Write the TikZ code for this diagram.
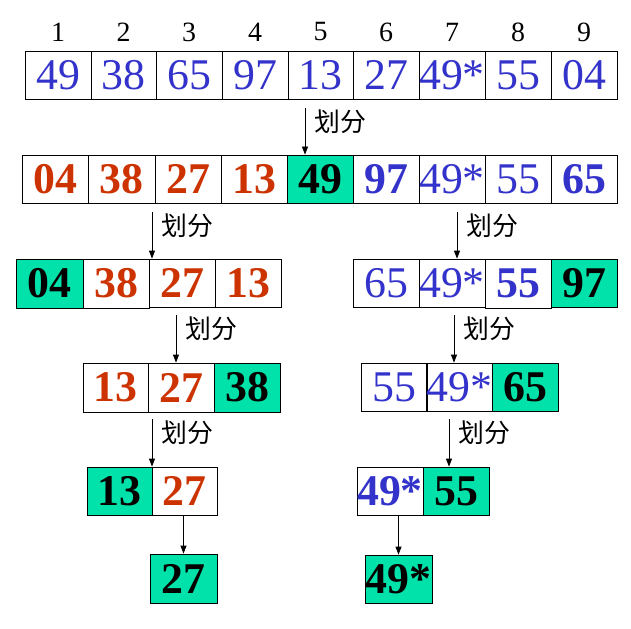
\documentclass[tikz,border=0pt]{standalone}
\usepackage{fontspec}
\setmainfont{Liberation Serif}
\newfontfamily\cjk{Noto Sans CJK SC}
\usetikzlibrary{arrows.meta}
\definecolor{tgreen}{RGB}{0,226,170}
\definecolor{tred}{RGB}{204,51,0}
\definecolor{tblue}{RGB}{51,51,204}
\newcommand\cellbox[7]{\node[cellstyle,#6,minimum width={(#3-#2)*1bp},minimum height={(#5-#4)*1bp}] (#1) at ({(#2+#3)/2},{(#4+#5)/2}) {#7};}
\tikzset{
  cellstyle/.style={draw=black,line width=0.8bp,inner sep=0pt,font=\fontsize{44}{44}\selectfont},
  bl/.style={text=tblue},
  bb/.style={text=tblue,font=\fontsize{44}{44}\selectfont\bfseries},
  rb/.style={text=tred,font=\fontsize{44}{44}\selectfont\bfseries},
  gb/.style={fill=tgreen,text=black,font=\fontsize{44}{44}\selectfont\bfseries},
  idx/.style={font=\fontsize{28}{28}\selectfont,inner sep=0pt},
  arr/.style={-{Triangle[length=8bp,width=6bp]},line width=0.8bp},
  lbl/.style={font=\cjk\fontsize{26}{26}\selectfont,anchor=west,inner sep=0pt}
}
\begin{document}
\begin{tikzpicture}[x=1bp,y=-1bp]
\fill[white] (0,0) rectangle (631,629);
\useasboundingbox (0,0) rectangle (631,629);
% row 1
\cellbox{a1}{25}{91}{51}{99}{bl}{49}
\cellbox{a2}{91}{156}{51}{99}{bl}{38}
\cellbox{a3}{156}{222}{51}{99}{bl}{65}
\cellbox{a4}{222}{288}{51}{99}{bl}{97}
\cellbox{a5}{288}{353}{51}{99}{bl}{13}
\cellbox{a6}{353}{419}{51}{99}{bl}{27}
\cellbox{a7}{419}{485}{51}{99}{bl}{49*}
\cellbox{a8}{485}{551}{51}{99}{bl}{55}
\cellbox{a9}{551}{617}{51}{99}{bl}{04}
\foreach \i in {1,...,9} {\node[idx] (n\i) at (a\i.center |- 0,32) {\i};}
% row 2
\cellbox{b1}{22}{88}{155}{203}{rb}{04}
\cellbox{b2}{88}{155}{155}{203}{rb}{38}
\cellbox{b3}{155}{221}{155}{203}{rb}{27}
\cellbox{b4}{221}{287}{155}{203}{rb}{13}
\cellbox{b5}{287}{353}{155}{203}{gb}{49}
\cellbox{b6}{353}{419}{155}{203}{bb}{97}
\cellbox{b7}{419}{485}{155}{203}{bl}{49*}
\cellbox{b8}{485}{551}{155}{203}{bl}{55}
\cellbox{b9}{551}{617}{155}{203}{bb}{65}
% row 3
\cellbox{c1}{16}{83}{259}{308}{gb}{04}
\cellbox{c2}{83}{149}{259}{308}{rb}{38}
\cellbox{c3}{149}{215}{259}{307}{rb}{27}
\cellbox{c4}{215}{281}{259}{307}{rb}{13}
\cellbox{c5}{353}{419}{259}{307}{bl}{65}
\cellbox{c6}{419}{485}{259}{307}{bl}{49*}
\cellbox{c7}{485}{551}{259}{308}{bb}{55}
\cellbox{c8}{551}{617}{259}{307}{gb}{97}
% row 4
\cellbox{d1}{83}{148}{363}{412}{rb}{13}
\cellbox{d2}{148}{214}{363}{412}{rb}{27}
\cellbox{d3}{214}{280}{363}{412}{gb}{38}
\cellbox{d4}{361}{427}{363}{411}{bl}{55}
\cellbox{d5}{427}{492}{363}{411}{bl}{49*}
\cellbox{d6}{492}{558}{363}{411}{gb}{65}
% row 5
\cellbox{e1}{87}{152}{467}{515}{gb}{13}
\cellbox{e2}{152}{217}{467}{515}{rb}{27}
\cellbox{e3}{357}{423}{467}{515}{bb}{49*}
\cellbox{e4}{423}{489}{467}{515}{gb}{55}
% row 6
\cellbox{f1}{150}{217}{554}{603}{gb}{27}
\cellbox{f2}{365}{432}{555}{603}{gb}{49*}
% arrows
\coordinate (s1) at (305,108);
\coordinate (s2) at (152,212);
\coordinate (s3) at (457,212);
\coordinate (s4) at (176,315);
\coordinate (s5) at (454,315);
\coordinate (s6) at (152,419);
\coordinate (s7) at (449,419);
\draw[arr] (s1) -- (s1 |- b5.north);
\draw[arr] (s2) -- (s2 |- c3.north);
\draw[arr] (s3) -- (s3 |- c6.north);
\draw[arr] (s4) -- (s4 |- d2.north);
\draw[arr] (s5) -- (s5 |- d5.north);
\draw[arr] (s6) -- (s6 |- e1.north);
\draw[arr] (s7) -- (s7 |- e4.north);
\draw[arr] (e2.south -| f1.center) -- (f1.north);
\draw[arr] (e3.south -| f2.center) -- (f2.north);
\node[lbl] (l1) at ([xshift=9bp,yshift=-14bp]s1) {划分};
\node[lbl] (l2) at ([xshift=9bp,yshift=-14bp]s2) {划分};
\node[lbl] (l3) at ([xshift=9bp,yshift=-14bp]s3) {划分};
\node[lbl] (l4) at ([xshift=9bp,yshift=-14bp]s4) {划分};
\node[lbl] (l5) at ([xshift=9bp,yshift=-14bp]s5) {划分};
\node[lbl] (l6) at ([xshift=9bp,yshift=-14bp]s6) {划分};
\node[lbl] (l7) at ([xshift=9bp,yshift=-14bp]s7) {划分};
\end{tikzpicture}
\end{document}
